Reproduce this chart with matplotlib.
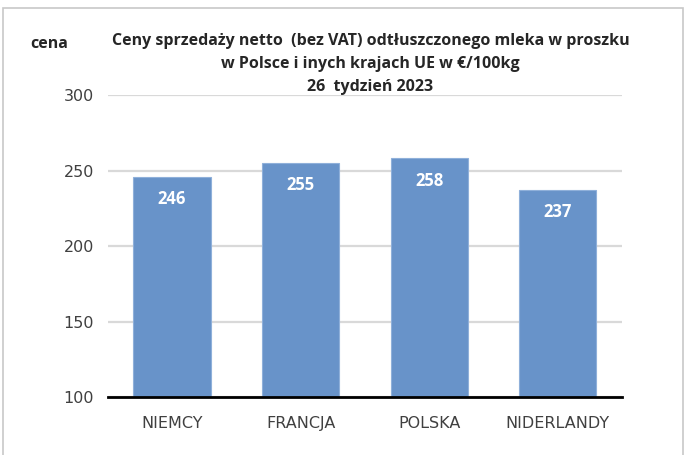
import matplotlib
matplotlib.use("Agg")
import matplotlib.pyplot as plt
from matplotlib.patches import Rectangle

countries = ["NIEMCY", "FRANCJA", "POLSKA", "NIDERLANDY"]
prices = [246, 255, 258, 237]
yticks = [100, 150, 200, 250, 300]

title = ("Ceny sprzedaży netto  (bez VAT) odtłuszczonego mleka w proszku\n"
         "w Polsce i inych krajach UE w €/100kg\n"
         "26  tydzień 2023")

plt.rcParams['font.family'] = ['Liberation Sans Narrow', 'DejaVu Sans']

fig = plt.figure(figsize=(6.86, 4.55), dpi=100)
ax = fig.add_axes([0.157, 0.1275, 0.75, 0.6635])

x = range(len(countries))
ax.bar(x, prices, width=0.6, bottom=0, color="#6893c9", edgecolor="#8fb0da",
       linewidth=0.8, zorder=2)
for i, v in enumerate(prices):
    ax.annotate(str(v), (i, v), xytext=(0, -16), textcoords="offset points",
                ha="center", va="center", color="white", fontsize=12,
                fontweight="bold", family=['Open Sans', 'DejaVu Sans'])

ax.set_ylim(100, 300)
ax.set_xlim(-0.5, len(countries) - 0.5)
ax.set_yticks(yticks)
ax.set_xticks(list(x))
ax.set_xticklabels(countries)
ax.tick_params(axis="both", length=0, labelsize=11.5, colors="#404040")
ax.tick_params(axis="x", pad=14)
ax.tick_params(axis="y", pad=10)
ax.grid(axis="y", color="#d9d9d9", linewidth=1.6, zorder=0)
ax.set_axisbelow(True)
for s in ["top", "right", "left"]:
    ax.spines[s].set_visible(False)
ax.spines["bottom"].set_color("black")
ax.spines["bottom"].set_linewidth(2)
ax.spines["bottom"].set_zorder(3)

fig.text(0.54, 0.859, title, ha="center", va="center", fontsize=11.5,
         fontweight="bold", color="#262626", linespacing=1.6,
         family=['Open Sans', 'DejaVu Sans'])
fig.text(0.044, 0.903, "cena", ha="left", va="center", fontsize=11.5,
         fontweight="bold", color="#262626", family=['Open Sans', 'DejaVu Sans'])

fig.patches.append(Rectangle((0.004, -0.01), 0.991, 0.992, transform=fig.transFigure,
                             fill=False, edgecolor="#c8c8c8", linewidth=1.2))

fig.savefig("out.png", dpi=100)
